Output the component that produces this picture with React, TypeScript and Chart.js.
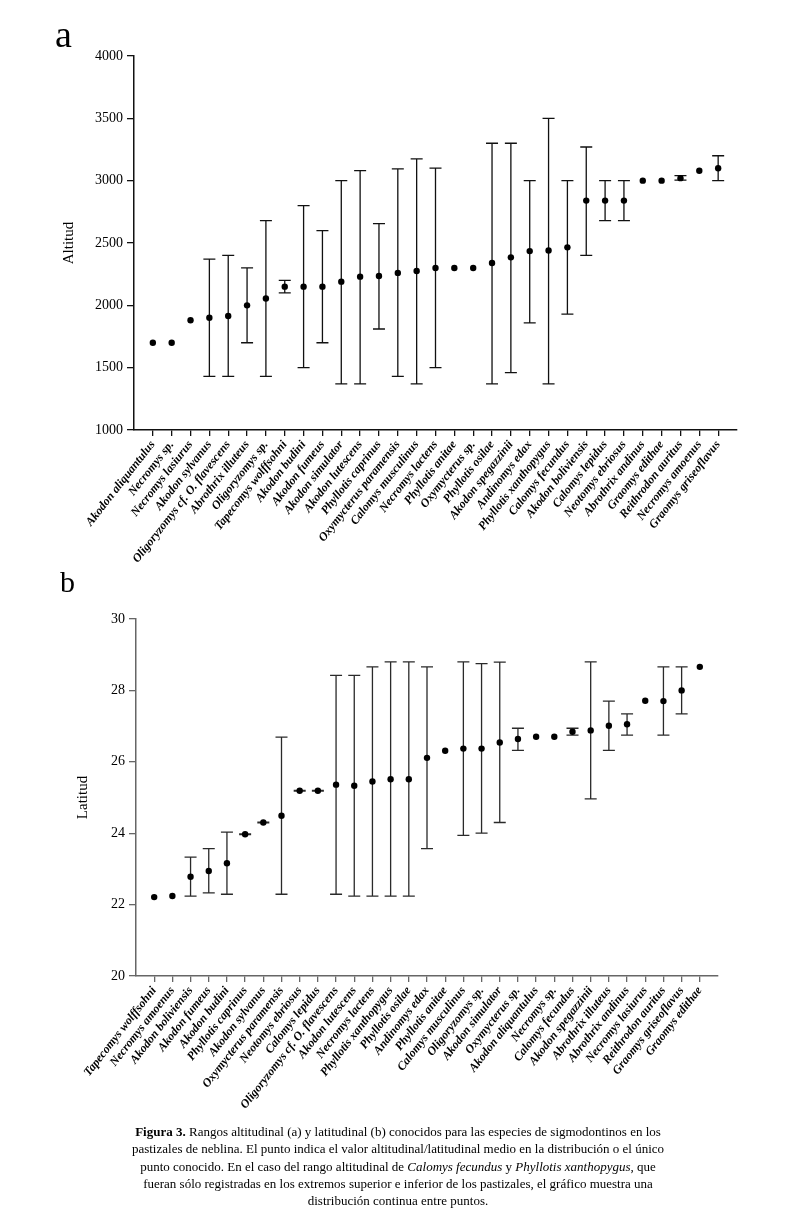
import React, { useEffect, useRef } from "react";
import { Chart, registerables } from "chart.js";

Chart.register(...registerables);

// ---------- Panel a: altitude ----------
const altSpecies = [
  "Akodon aliquantulus", "Necromys sp.", "Necromys lasiurus", "Akodon sylvanus",
  "Oligoryzomys cf. O. flavescens", "Abrothrix illuteus", "Oligoryzomys sp.",
  "Tapecomys wolffsohni", "Akodon budini", "Akodon fumeus", "Akodon simulator",
  "Akodon lutescens", "Phyllotis caprinus", "Oxymycterus paramensis",
  "Calomys musculinus", "Necromys lactens", "Phyllotis anitae", "Oxymycterus sp.",
  "Phyllotis osilae", "Akodon spegazzinii", "Andinomys edax", "Phyllotis xanthopygus",
  "Calomys fecundus", "Akodon boliviensis", "Calomys lepidus", "Neotomys ebriosus",
  "Abrothrix andinus", "Graomys edithae", "Reithrodon auritus", "Necromys amoenus",
  "Graomys griseoflavus",
];
const altMean = [
  1700, 1700, 1880, 1900, 1915, 2000, 2055, 2150, 2150, 2150, 2190, 2230, 2235, 2260,
  2275, 2300, 2300, 2300, 2340, 2385, 2435, 2440, 2465, 2840, 2840, 2840, 3000, 3000,
  3020, 3080, 3100,
];
const altMin = [
  null, null, null, 1430, 1430, 1700, 1430, 2100, 1500, 1700, 1370, 1370, 1810, 1430,
  1370, 1500, null, null, 1370, 1460, 1860, 1370, 1930, 2400, 2680, 2680, null, null,
  3005, null, 3000,
];
const altMax = [
  null, null, null, 2370, 2400, 2300, 2680, 2200, 2800, 2600, 3000, 3080, 2655, 3095,
  3175, 3100, null, null, 3300, 3300, 3000, 3500, 3000, 3270, 3000, 3000, null, null,
  3040, null, 3200,
];

// ---------- Panel b: latitude ----------
const latSpecies = [
  "Tapecomys wolffsohni", "Necromys amoenus", "Akodon boliviensis", "Akodon fumeus",
  "Akodon budini", "Phyllotis caprinus", "Akodon sylvanus", "Oxymycterus paramensis",
  "Neotomys ebriosus", "Calomys lepidus", "Oligoryzomys cf. O. flavescens",
  "Akodon lutescens", "Necromys lactens", "Phyllotis xanthopygus", "Phyllotis osilae",
  "Andinomys edax", "Phyllotis anitae", "Calomys musculinus", "Oligoryzomys sp.",
  "Akodon simulator", "Oxymycterus sp.", "Akodon aliquantulus", "Necromys sp.",
  "Calomys fecundus", "Akodon spegazzinii", "Abrothrix illuteus", "Abrothrix andinus",
  "Necromys lasiurus", "Reithrodon auritus", "Graomys griseoflavus", "Graomys edithae",
];
const latMean = [
  22.21, 22.24, 22.78, 22.94, 23.16, 23.97, 24.3, 24.49, 25.19, 25.19, 25.36, 25.33,
  25.45, 25.51, 25.51, 26.11, 26.31, 26.37, 26.37, 26.54, 26.64, 26.7, 26.7, 26.84,
  26.88, 27.01, 27.05, 27.71, 27.7, 28.0, 28.66,
];
const latMin = [
  null, null, 22.24, 22.33, 22.29, 23.96, 24.29, 22.29, 25.18, 25.18, 22.29, 22.24,
  22.24, 22.24, 22.24, 23.57, null, 23.94, 24.0, 24.3, 26.32, null, null, 26.75,
  24.96, 26.32, 26.75, null, 26.75, 27.34, null,
];
const latMax = [
  null, null, 23.33, 23.57, 24.03, 23.98, 24.31, 26.69, 25.2, 25.2, 28.42, 28.42,
  28.66, 28.8, 28.8, 28.66, null, 28.8, 28.75, 28.79, 26.94, null, null, 26.94,
  28.8, 27.7, 27.34, null, 28.66, 28.66, null,
];

type Cfg = {
  species: string[];
  mean: number[];
  lows: (number | null)[];
  highs: (number | null)[];
  yMin: number;
  yMax: number;
  yStep: number;
  yTitle: string;
  width: number;
  height: number;
  pad: { left: number; right: number; top: number; bottom: number };
  yAxisWidth: number;
  xAxisHeight: number;
  titlePad: number;
  axisColor: string;
  barColor: string;
};

function RangeChart(props: Cfg & { style: React.CSSProperties }) {
  const ref = useRef<HTMLCanvasElement | null>(null);
  useEffect(() => {
    const c = props;
    const errPlugin = {
      id: "errbars",
      beforeDatasetsDraw(chart: any) {
        const { ctx } = chart;
        const x = chart.scales.x;
        const y = chart.scales.y;
        ctx.save();
        ctx.strokeStyle = c.barColor;
        ctx.lineWidth = 1.3;
        const cap = 6;
        c.lows.forEach((lo, i) => {
          const hi = c.highs[i];
          if (lo == null || hi == null) return;
          const px = x.getPixelForValue(i + 1);
          const pl = y.getPixelForValue(lo);
          const ph = y.getPixelForValue(hi);
          ctx.beginPath();
          ctx.moveTo(px, pl);
          ctx.lineTo(px, ph);
          ctx.moveTo(px - cap, pl);
          ctx.lineTo(px + cap, pl);
          ctx.moveTo(px - cap, ph);
          ctx.lineTo(px + cap, ph);
          ctx.stroke();
        });
        ctx.restore();
      },
    };
    const chart = new Chart(ref.current as HTMLCanvasElement, {
      type: "scatter",
      data: {
        datasets: [
          {
            data: c.mean.map((v, i) => ({ x: i + 1, y: v })),
            pointRadius: 3.2,
            pointBackgroundColor: "#000",
            pointBorderWidth: 0,
            showLine: false,
          },
        ],
      },
      options: {
        animation: false,
        responsive: false,
        maintainAspectRatio: false,
        layout: { padding: c.pad },
        plugins: { legend: { display: false }, tooltip: { enabled: false } },
        scales: {
          x: {
            type: "linear",
            min: 0,
            max: c.species.length + 1,
            afterBuildTicks: (s: any) => {
              s.ticks = c.species.map((_, i) => ({ value: i + 1 }));
            },
            afterFit: (s: any) => {
              s.height = c.xAxisHeight;
              s.paddingLeft = 0;
              s.paddingRight = 0;
            },
            grid: {
              drawOnChartArea: false,
              drawTicks: true,
              tickLength: 6,
              color: c.axisColor,
              lineWidth: 1.3,
            },
            border: { display: true, color: c.axisColor, width: 1.5 },
            ticks: {
              autoSkip: false,
              minRotation: 52,
              maxRotation: 52,
              padding: 2,
              color: "#000",
              font: { family: "Liberation Serif", size: 12, weight: "bold", style: "italic" },
              callback: (v: any) => c.species[Math.round(Number(v)) - 1] ?? "",
            },
          },
          y: {
            type: "linear",
            min: c.yMin,
            max: c.yMax,
            afterFit: (s: any) => {
              s.width = c.yAxisWidth;
              s.paddingTop = 0;
              s.paddingBottom = 0;
            },
            grid: {
              drawOnChartArea: false,
              drawTicks: true,
              tickLength: 7,
              color: c.axisColor,
              lineWidth: 1.3,
            },
            border: { display: true, color: c.axisColor, width: 1.5 },
            ticks: {
              stepSize: c.yStep,
              padding: 4,
              color: "#000",
              font: { family: "Liberation Serif", size: 14 },
              callback: (v: any) => String(v),
            },
            title: {
              display: true,
              text: c.yTitle,
              color: "#000",
              padding: { top: c.titlePad, bottom: 0 },
              font: { family: "Liberation Serif", size: 15 },
            },
          },
        },
      },
      plugins: [errPlugin],
    } as any);
    return () => chart.destroy();
  }, []);
  return (
    <canvas
      ref={ref}
      width={props.width}
      height={props.height}
      style={{ position: "absolute", width: props.width, height: props.height, ...props.style }}
    />
  );
}

export default function App() {
  const serif = "'Liberation Serif', 'Times New Roman', serif";
  return (
    <div
      style={{
        position: "absolute",
        left: 0,
        top: 0,
        width: 790,
        height: 1221,
        background: "#fff",
        overflow: "hidden",
        fontFamily: serif,
        color: "#000",
      }}
    >
      <RangeChart
        style={{ left: 0, top: 0 }}
        species={altSpecies}
        mean={altMean}
        lows={altMin}
        highs={altMax}
        yMin={1000}
        yMax={4000}
        yStep={500}
        yTitle="Altitud"
        width={790}
        height={590}
        pad={{ left: 54, right: 53, top: 56, bottom: 10 }}
        yAxisWidth={80}
        xAxisHeight={150}
        titlePad={6}
        axisColor="#111"
        barColor="#111"
      />
      <RangeChart
        style={{ left: 0, top: 560 }}
        species={latSpecies}
        mean={latMean}
        lows={latMin}
        highs={latMax}
        yMin={20}
        yMax={30}
        yStep={2}
        yTitle="Latitud"
        width={790}
        height={580}
        pad={{ left: 56, right: 72, top: 59, bottom: 28 }}
        yAxisWidth={80}
        xAxisHeight={136}
        titlePad={18}
        axisColor="#666"
        barColor="#2a2a2a"
      />
      <div style={{ position: "absolute", left: 55, top: 15, fontSize: 38, lineHeight: "38px" }}>a</div>
      <div style={{ position: "absolute", left: 60, top: 567, fontSize: 30, lineHeight: "30px" }}>b</div>
      <div
        style={{
          position: "absolute",
          left: 0,
          top: 1123,
          width: 796,
          textAlign: "center",
          fontSize: 13,
          lineHeight: "17.3px",
          whiteSpace: "nowrap",
        }}
      >
        <div>
          <b>Figura 3.</b> Rangos altitudinal (a) y latitudinal (b) conocidos para las especies de sigmodontinos en los
        </div>
        <div>
          pastizales de neblina. El punto indica el valor altitudinal/latitudinal medio en la distribución o el único
        </div>
        <div>
          punto conocido. En el caso del rango altitudinal de <i>Calomys fecundus</i> y <i>Phyllotis xanthopygus</i>, que
        </div>
        <div>
          fueran sólo registradas en los extremos superior e inferior de los pastizales, el gráfico muestra una
        </div>
        <div>distribución continua entre puntos.</div>
      </div>
    </div>
  );
}
